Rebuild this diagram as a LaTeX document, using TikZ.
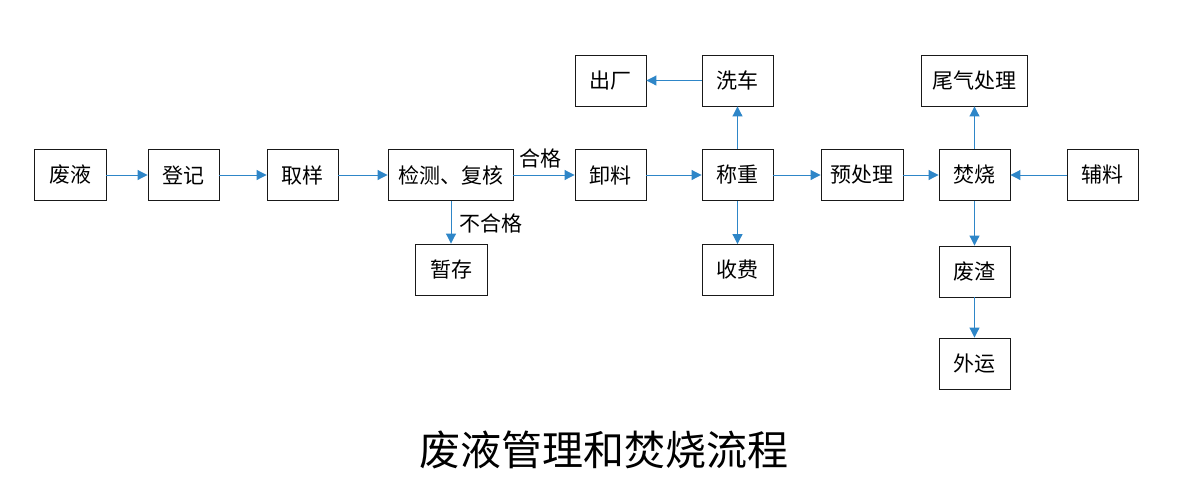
\documentclass[tikz,border=0pt]{standalone}
\usepackage{fontspec}
\newfontfamily\cjk{Noto Sans CJK SC}
\usetikzlibrary{arrows.meta}
\definecolor{flowblue}{HTML}{2E86C8}
\begin{document}
\begin{tikzpicture}[x=1pt,y=-1pt,
  box/.style={draw=black!90,line width=0.9pt,fill=white,inner sep=0pt,minimum height=51pt,font=\cjk\fontsize{21}{24}\selectfont},
  flow/.style={draw=flowblue,line width=1pt,-{Triangle[length=10pt,width=10pt]}},
  lbl/.style={font=\cjk\fontsize{21}{24}\selectfont,inner sep=0pt}]
\useasboundingbox (0,0) rectangle (1187,499);
\fill[white] (0,0) rectangle (1187,499);
% main row
\node[box,minimum width=72pt] (fy) at (70,175) {废液};
\node[box,minimum width=71pt] (dj) at (183.5,175) {登记};
\node[box,minimum width=71pt] (qy) at (302.5,175) {取样};
\node[box,minimum width=125pt] (jc) at (450.5,175) {检测、复核};
\node[box,minimum width=71pt] (xl) at (610.5,175) {卸料};
\node[box,minimum width=71pt] (cz) at (737.5,175) {称重};
\node[box,minimum width=82pt] (ycl) at (862,175) {预处理};
\node[box,minimum width=71pt] (fs) at (974.5,175) {焚烧};
\node[box,minimum width=71pt] (fl) at (1102.5,175) {辅料};
% top row
\node[box,minimum width=71pt] (cc) at (610.5,80.5) {出厂};
\node[box,minimum width=71pt] (xc) at (737.5,80.5) {洗车};
\node[box,minimum width=106pt] (wq) at (974.5,80.5) {尾气处理};
% bottom rows
\node[box,minimum width=72pt] (zc) at (451,269.5) {暂存};
\node[box,minimum width=71pt] (sf) at (737.5,270) {收费};
\node[box,minimum width=71pt] (fz) at (974.5,271.5) {废渣};
\node[box,minimum width=71pt] (wy) at (974.5,363.5) {外运};
% connectors
\draw[flow] (fy) -- (dj);
\draw[flow] (dj) -- (qy);
\draw[flow] (qy) -- (jc);
\draw[flow] (jc) -- (xl);
\draw[flow] (jc.south -| zc.north) -- (zc.north);
\draw[flow] (xl) -- (cz);
\draw[flow] (cz) -- (xc);
\draw[flow] (xc) -- (cc);
\draw[flow] (cz) -- (sf);
\draw[flow] (cz) -- (ycl);
\draw[flow] (ycl) -- (fs);
\draw[flow] (fs) -- (wq);
\draw[flow] (fl) -- (fs);
\draw[flow] (fs) -- (fz);
\draw[flow] (fz) -- (wy);
% labels
\node[lbl] (hg) at (540,158) {合格};
\node[lbl] (bhg) at (491,223) {不合格};
% title
\node[font=\cjk\fontsize{41}{45}\selectfont,inner sep=0pt] (title) at (603.5,450) {废液管理和焚烧流程};
\end{tikzpicture}
\end{document}
